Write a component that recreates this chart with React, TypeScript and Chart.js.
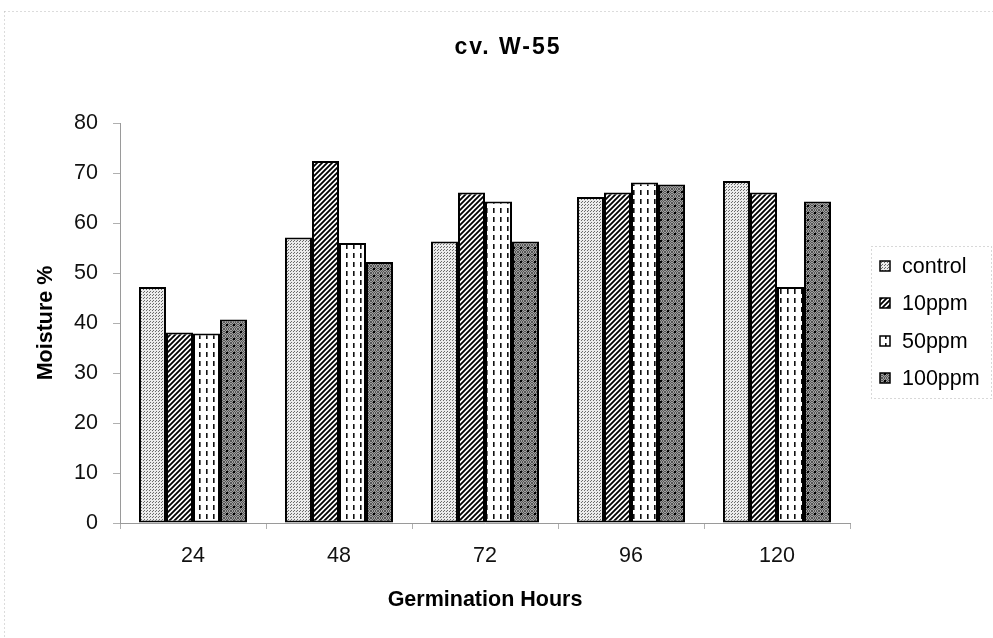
import { useEffect, useRef } from 'react';
import { Chart, registerables } from 'chart.js';

Chart.register(...registerables);

// Moisture % of cv. W-55 seedlings over germination hours
const categories = ['24', '48', '72', '96', '120'];
const seriesNames = ['control', '10ppm', '50ppm', '100ppm'];
const controlValues = [47.2, 57.1, 56.3, 65.2, 68.4];
const ppm10Values = [38.1, 72.4, 66.1, 66.1, 66.1];
const ppm50Values = [37.9, 56.0, 64.3, 68.1, 47.2];
const ppm100Values = [40.7, 52.2, 56.3, 67.7, 64.3];
const yMin = 0;
const yMax = 80;
const yStep = 10;
const chartTitle = 'cv. W-55';
const xTitle = 'Germination Hours';
const yTitle = 'Moisture %';

const FAMILY = '"Liberation Sans", Arial, sans-serif';

function makeTile(w: number, h: number, paint: (g: CanvasRenderingContext2D) => void) {
  const c = document.createElement('canvas');
  c.width = w;
  c.height = h;
  const g = c.getContext('2d')!;
  paint(g);
  return c;
}

// light grey stipple
function stippleFill(ctx: CanvasRenderingContext2D) {
  const t = makeTile(3, 3, (g) => {
    g.fillStyle = '#ebebeb';
    g.fillRect(0, 0, 3, 3);
    g.fillStyle = '#6a6a6a';
    g.fillRect(0, 0, 1, 1);
    g.fillRect(2, 1, 1, 1);
  });
  return ctx.createPattern(t, 'repeat')!;
}

// diagonal black hatch (///)
function hatchFill(ctx: CanvasRenderingContext2D) {
  const s = 5;
  const t = makeTile(s, s, (g) => {
    g.fillStyle = '#ffffff';
    g.fillRect(0, 0, s, s);
    g.strokeStyle = '#000000';
    g.lineWidth = 1.8;
    g.lineCap = 'square';
    for (const k of [-s, 0, s]) {
      g.beginPath();
      g.moveTo(k, s);
      g.lineTo(k + s, 0);
      g.stroke();
    }
  });
  return ctx.createPattern(t, 'repeat')!;
}

// white with short vertical dashes
function dashFill(ctx: CanvasRenderingContext2D) {
  const t = makeTile(7, 9, (g) => {
    g.fillStyle = '#ffffff';
    g.fillRect(0, 0, 7, 9);
    g.fillStyle = '#111111';
    g.fillRect(3, 1, 1.6, 5);
  });
  return ctx.createPattern(t, 'repeat')!;
}

// dark grey stipple with black dots
function darkFill(ctx: CanvasRenderingContext2D) {
  const s = 7;
  const t = makeTile(s, s, (g) => {
    for (let y = 0; y < s; y++) {
      for (let x = 0; x < s; x++) {
        g.fillStyle = (x + y) % 2 === 0 ? '#555555' : '#a0a0a0';
        g.fillRect(x, y, 1, 1);
      }
    }
    g.fillStyle = '#000000';
    g.fillRect(2, 2, 2, 2);
  });
  return ctx.createPattern(t, 'repeat')!;
}

export default function App() {
  const canvasRef = useRef<HTMLCanvasElement>(null);

  useEffect(() => {
    const canvas = canvasRef.current!;
    const ctx = canvas.getContext('2d')!;
    const fills = [stippleFill(ctx), hatchFill(ctx), dashFill(ctx), darkFill(ctx)];
    const values = [controlValues, ppm10Values, ppm50Values, ppm100Values];

    const decor = {
      id: 'decor',
      afterDraw(chart: Chart) {
        const c = chart.ctx;
        const area = chart.chartArea;
        c.save();

        // outer dotted frame
        c.strokeStyle = '#b8b8b8';
        c.lineWidth = 1;
        c.setLineDash([1, 3]);
        c.beginPath();
        c.moveTo(4.5, 11.5);
        c.lineTo(993, 11.5);
        c.moveTo(4.5, 11.5);
        c.lineTo(4.5, 638);
        c.stroke();

        // chart title
        c.setLineDash([]);
        c.fillStyle = '#000';
        c.font = `bold 23px ${FAMILY}`;
        (c as any).letterSpacing = '2px';
        c.textAlign = 'center';
        c.textBaseline = 'middle';
        c.fillText(chartTitle, 508, 48);
        (c as any).letterSpacing = '0px';

        // axis titles
        c.font = `bold 21.5px ${FAMILY}`;
        c.fillText(xTitle, (area.left + area.right) / 2, 600);
        c.save();
        c.translate(46, (area.top + area.bottom) / 2);
        c.rotate(-Math.PI / 2);
        c.fillText(yTitle, 0, 0);
        c.restore();

        // legend
        c.strokeStyle = '#b0b0b0';
        c.lineWidth = 1;
        c.setLineDash([1, 3]);
        c.strokeRect(871.5, 246.5, 120, 152);
        c.setLineDash([]);
        const rows = [266, 303, 341, 378];
        c.font = `21.5px ${FAMILY}`;
        c.textAlign = 'left';
        chart.data.datasets.forEach((ds, i) => {
          const y = rows[i];
          c.fillStyle = ds.backgroundColor as any;
          c.fillRect(880, y - 5, 10, 10);
          c.strokeStyle = '#000';
          c.lineWidth = 1.5;
          c.strokeRect(880, y - 5, 10, 10);
          c.fillStyle = '#000';
          c.fillText(String(ds.label), 902, y + 1);
        });

        c.restore();
      },
    };

    const chart = new Chart(ctx, {
      type: 'bar',
      data: {
        labels: categories,
        datasets: seriesNames.map((name, i) => ({
          label: name,
          data: values[i],
          backgroundColor: fills[i],
          borderColor: '#000000',
          borderWidth: 2,
          borderSkipped: false,
          categoryPercentage: 0.74,
          barPercentage: 1,
        })),
      },
      options: {
        responsive: false,
        animation: false,
        events: [],
        layout: { padding: { left: 0, top: 123, right: 143, bottom: 0 } },
        plugins: {
          legend: { display: false },
          title: { display: false },
          tooltip: { enabled: false },
        },
        scales: {
          x: {
            grid: {
              offset: true,
              drawOnChartArea: false,
              drawTicks: true,
              tickLength: 6,
              color: '#b0b0b0',
            },
            border: { color: '#9a9a9a', dash: [1, 2] },
            ticks: {
              color: '#111',
              font: { family: FAMILY, size: 21.5 },
              padding: 14,
            },
            afterFit: (s: any) => {
              s.height = 115;
            },
          },
          y: {
            min: yMin,
            max: yMax,
            ticks: {
              stepSize: yStep,
              color: '#111',
              font: { family: FAMILY, size: 21.5 },
              padding: 15,
            },
            grid: {
              drawOnChartArea: false,
              drawTicks: true,
              tickLength: 7,
              color: '#b0b0b0',
            },
            border: { color: '#9a9a9a', dash: [1, 2] },
            afterFit: (s: any) => {
              s.width = 120;
            },
          },
        },
      },
      plugins: [decor],
    });

    return () => chart.destroy();
  }, []);

  return (
    <div style={{ position: 'absolute', left: 0, top: 0, width: 993, height: 638, background: '#fff' }}>
      <canvas ref={canvasRef} width={993} height={638} style={{ display: 'block' }} />
    </div>
  );
}
